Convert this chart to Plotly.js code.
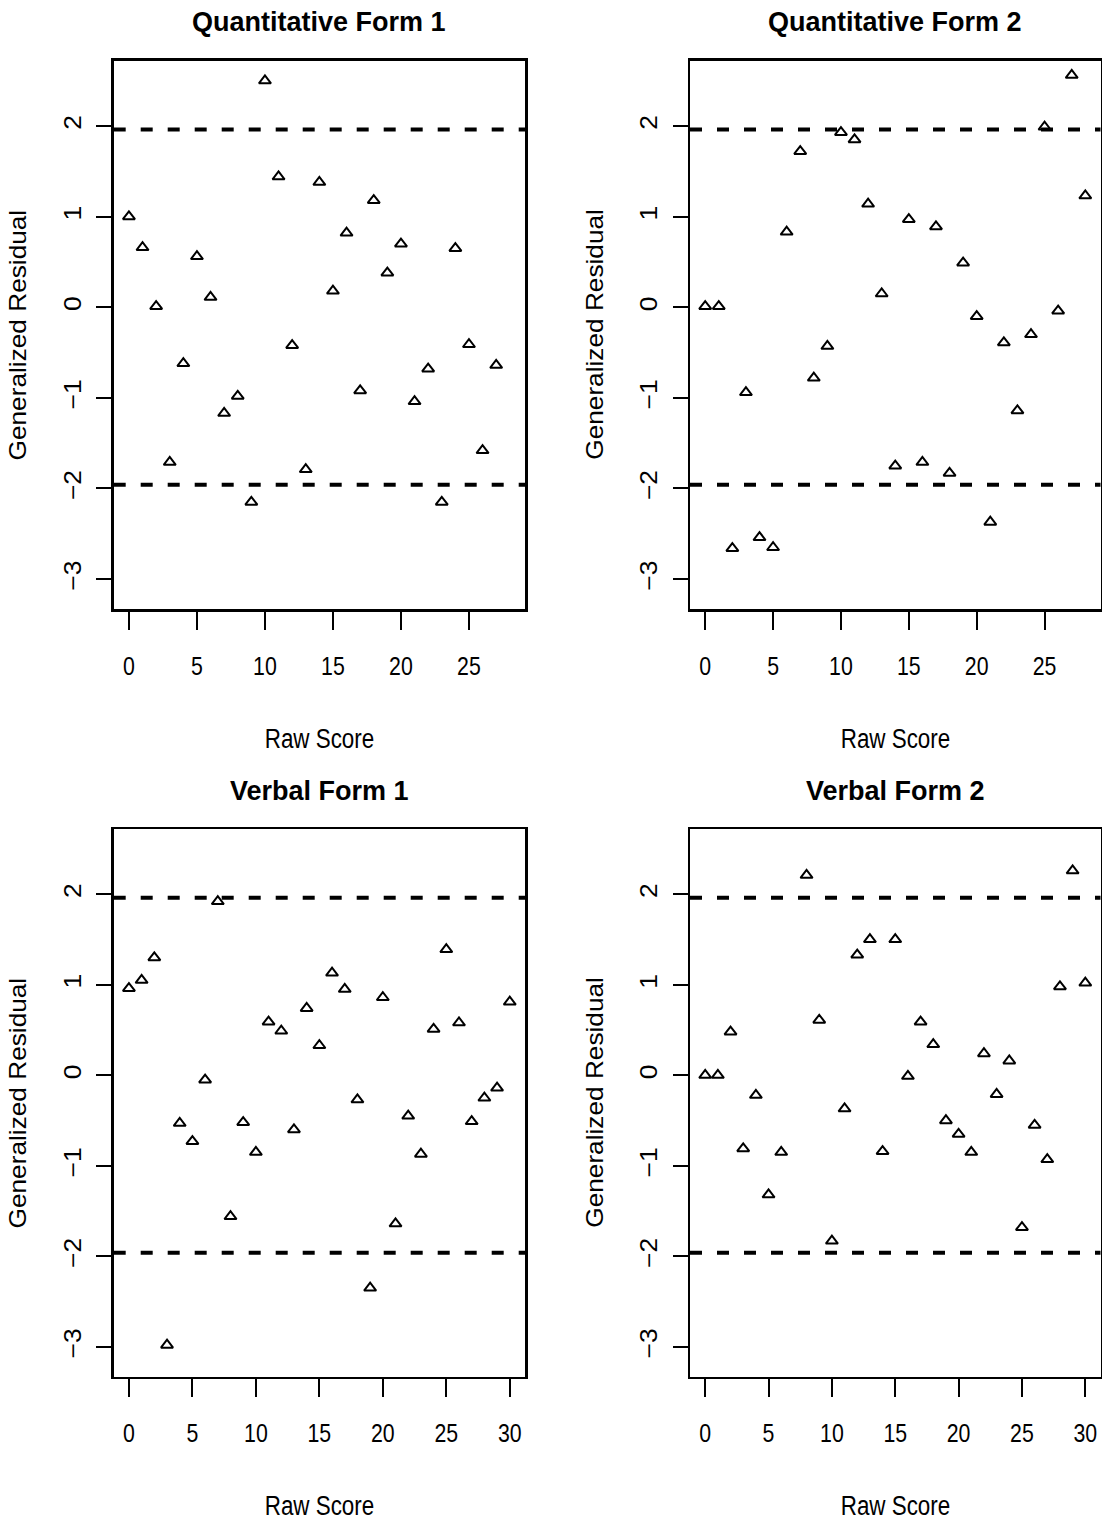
<!DOCTYPE html>
<html>
<head>
<meta charset="utf-8">
<script src="https://cdn.plot.ly/plotly-3.0.1.min.js"></script>
<style>
  html, body { margin: 0; padding: 0; background: #ffffff; }
  #chart { width: 1102px; height: 1524px; }
</style>
</head>
<body>
<div id="chart"></div>
<script>
// ---------------- Data ----------------
const panelTitles = ["Quantitative Form 1", "Quantitative Form 2", "Verbal Form 1", "Verbal Form 2"];
const xAxisLabel = "Raw Score";
const yAxisLabel = "Generalized Residual";

const quantForm1Scores = [0,1,2,3,4,5,6,7,8,9,10,11,12,13,14,15,16,17,18,19,20,21,22,23,24,25,26,27];
const quantForm1Resid  = [1.00,0.66,0.01,-1.71,-0.62,0.56,0.11,-1.17,-0.98,-2.15,2.50,1.44,-0.42,-1.79,1.38,0.18,0.82,-0.92,1.18,0.38,0.70,-1.04,-0.68,-2.15,0.65,-0.41,-1.58,-0.64];

const quantForm2Scores = [0,1,2,3,4,5,6,7,8,9,10,11,12,13,14,15,16,17,18,19,20,21,22,23,24,25,26,27,28];
const quantForm2Resid  = [0.01,0.01,-2.66,-0.94,-2.54,-2.65,0.83,1.72,-0.78,-0.43,1.93,1.85,1.14,0.15,-1.75,0.97,-1.71,0.89,-1.83,0.49,-0.10,-2.37,-0.39,-1.14,-0.30,1.99,-0.04,2.56,1.23];

const verbalForm1Scores = [0,1,2,3,4,5,6,7,8,9,10,11,12,13,14,15,16,17,18,19,20,21,22,23,24,25,26,27,28,29,30];
const verbalForm1Resid  = [0.96,1.05,1.30,-2.98,-0.53,-0.73,-0.05,1.92,-1.56,-0.52,-0.85,0.59,0.49,-0.60,0.74,0.33,1.13,0.95,-0.27,-2.35,0.86,-1.64,-0.45,-0.87,0.51,1.39,0.58,-0.51,-0.25,-0.14,0.81];

const verbalForm2Scores = [0,1,2,3,4,5,6,7,8,9,10,11,12,13,14,15,16,17,18,19,20,21,22,23,24,25,26,27,28,29,30];
const verbalForm2Resid  = [0.00,0.00,0.48,-0.81,-0.22,-1.32,-0.85,null,2.21,0.61,-1.83,-0.37,1.33,1.50,-0.84,1.50,-0.01,0.59,0.34,-0.50,-0.65,-0.85,0.24,-0.21,0.16,-1.68,-0.55,-0.93,0.98,2.26,1.02];

const criticalValues = [-1.96, 1.96];

const xTicksQuant  = [0,5,10,15,20,25];
const xTicksVerbal = [0,5,10,15,20,25,30];
const yTicks = [-3,-2,-1,0,1,2];

// ---------------- Layout helpers ----------------
const W = 1102, H = 1524;
const colsPx = [[113.7, 525], [690, 1100.5]];
const rowsPx = [[60.7, 609], [829, 1376.7]];

const panels = [
  {x: quantForm1Scores,  y: quantForm1Resid,  ticks: xTicksQuant,  xr: [-1.12, 29.12], c: 0, r: 0},
  {x: quantForm2Scores,  y: quantForm2Resid,  ticks: xTicksQuant,  xr: [-1.12, 29.12], c: 1, r: 0},
  {x: verbalForm1Scores, y: verbalForm1Resid, ticks: xTicksVerbal, xr: [-1.2, 31.2],   c: 0, r: 1},
  {x: verbalForm2Scores, y: verbalForm2Resid, ticks: xTicksVerbal, xr: [-1.2, 31.2],   c: 1, r: 1}
];

const regular = "Liberation Sans, Arial, sans-serif";

const data = [];
const layout = {
  width: W, height: H,
  margin: {l: 0, r: 0, t: 0, b: 0},
  paper_bgcolor: "#ffffff",
  plot_bgcolor: "#ffffff",
  showlegend: false,
  shapes: [],
  annotations: []
};

panels.forEach((p, i) => {
  const n = i === 0 ? "" : String(i + 1);
  const xa = "x" + n, ya = "y" + n;
  const [x0, x1] = colsPx[p.c];
  const [y0, y1] = rowsPx[p.r];

  data.push({
    type: "scatter", mode: "markers",
    x: p.x, y: p.y, xaxis: xa, yaxis: ya,
    marker: {symbol: "triangle-up-open", size: 10.5, color: "#000000", line: {width: 2, color: "#000000"}},
    hoverinfo: "skip"
  });

  layout["xaxis" + n] = {
    domain: [x0 / W, x1 / W],
    anchor: ya,
    range: p.xr,
    tickmode: "array", tickvals: p.ticks, ticktext: p.ticks.map(String),
    ticks: "outside", ticklen: 18, tickwidth: 2, tickcolor: "#000",
    showline: true, linewidth: 2.5, linecolor: "#000", mirror: true,
    showgrid: false, zeroline: false,
    tickfont: {family: regular, size: 26, color: "#000"},
    ticklabelstandoff: 14
  };
  layout["yaxis" + n] = {
    domain: [1 - y1 / H, 1 - y0 / H],
    anchor: xa,
    range: [-3.33, 2.72],
    tickmode: "array", tickvals: yTicks, ticktext: yTicks.map(v => v < 0 ? "\u2212" + Math.abs(v) : String(v)),
    ticks: "outside", ticklen: 15, tickwidth: 2, tickcolor: "#000",
    showline: true, linewidth: 2.5, linecolor: "#000", mirror: true,
    showgrid: false, zeroline: false,
    tickangle: -90,
    tickfont: {family: regular, size: 23, color: "#000"},
    ticklabelstandoff: 6
  };

  criticalValues.forEach(v => {
    layout.shapes.push({
      type: "line", xref: xa + " domain", yref: ya,
      x0: 0, x1: 1, y0: v, y1: v,
      line: {color: "#000", width: 4, dash: "12px,15px"}
    });
  });

  const cx = (x0 + x1) / 2 / W;
  // Panel title
  layout.annotations.push({
    text: "<b>" + panelTitles[i] + "</b>", xref: "paper", yref: "paper",
    x: cx, y: 1 - (22.5 + (p.r ? (829 - 60.7) : 0)) / H,
    xanchor: "center", yanchor: "middle", showarrow: false,
    font: {family: regular, size: 27, color: "#000"}
  });
  // x-axis label
  layout.annotations.push({
    text: xAxisLabel, xref: "paper", yref: "paper",
    x: cx, y: 1 - (y1 + 129) / H,
    xanchor: "center", yanchor: "middle", showarrow: false,
    font: {family: regular, size: 28, color: "#000"}
  });
  // y-axis label
  layout.annotations.push({
    text: yAxisLabel, xref: "paper", yref: "paper",
    x: (x0 - 95.5) / W, y: 1 - (y0 + y1) / 2 / H,
    xanchor: "center", yanchor: "middle", showarrow: false, textangle: -90,
    font: {family: regular, size: 23, color: "#000"}
  });
});

// Scale a text element along its own writing direction, about its centre.
function stretchText(el, s) {
  const bb = el.getBBox();
  const c = bb.x + bb.width / 2;
  const prev = el.getAttribute("transform") || "";
  el.setAttribute("transform", prev + " translate(" + c + ",0) scale(" + s + ",1) translate(" + (-c) + ",0)");
}

Plotly.newPlot("chart", data, layout, {displayModeBar: false, staticPlot: true}).then(gd => {
  // the reference's axis text is condensed horizontally / drawn taller
  gd.querySelectorAll(".xtick text, .x2tick text, .x3tick text, .x4tick text").forEach(t => stretchText(t, 0.82));
  gd.querySelectorAll(".ytick text, .y2tick text, .y3tick text, .y4tick text").forEach(t => stretchText(t, 1.15));
  gd.querySelectorAll(".annotation-text").forEach(t => {
    const txt = t.textContent;
    if (txt === xAxisLabel) stretchText(t, 0.80);
    else if (txt === yAxisLabel) stretchText(t, 1.14);
  });
});
</script>
</body>
</html>
